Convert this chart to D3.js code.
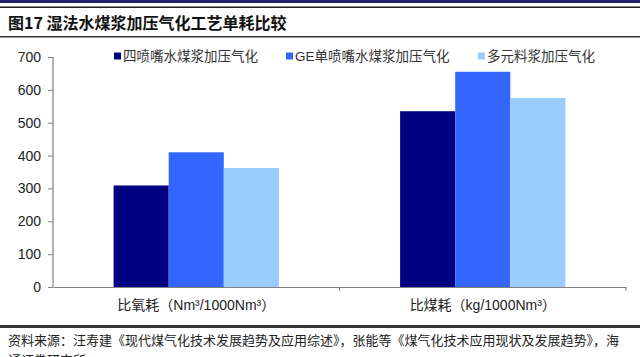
<!DOCTYPE html>
<html><head><meta charset="utf-8">
<script src="https://cdn.jsdelivr.net/npm/d3@7"></script>
<style>
html,body{margin:0;padding:0;background:#fff;overflow:hidden;}
svg{display:block;}
</style></head>
<body>
<script>
const title = "图17 湿法水煤浆加压气化工艺单耗比较";
const categories = ["比氧耗（Nm³/1000Nm³）", "比煤耗（kg/1000Nm³）"];
const seriesNames = ["四喷嘴水煤浆加压气化", "GE单喷嘴水煤浆加压气化", "多元料浆加压气化"];
const seriesFourNozzle = [309, 535];
const seriesGE = [410, 655];
const seriesMulti = [362, 575];
const yTicks = [0, 100, 200, 300, 400, 500, 600, 700];
const sourceLines = ["资料来源：汪寿建《现代煤气化技术发展趋势及应用综述》，张能等《煤气化技术应用现状及发展趋势》，海",
                     "通证券研究所"];
const colors = ["#000080", "#3366ff", "#99ccff"];

const seriesValues = [seriesFourNozzle, seriesGE, seriesMulti];
const W = 640, H = 357;
const svg = d3.select("body").append("svg").attr("width", W).attr("height", H);
const cjk = "'Noto Sans CJK SC','Noto Sans',sans-serif";
const latin = "'Liberation Sans',Arial,sans-serif";
const mixed = "'Liberation Sans','Noto Sans CJK SC',sans-serif";

// header rules
svg.append("rect").attr("x",0).attr("y",0).attr("width",W).attr("height",3).attr("fill","#22226e");
svg.append("rect").attr("x",0).attr("y",6.5).attr("width",W).attr("height",1.5).attr("fill","#222");
svg.append("text").attr("x",8).attr("y",29).attr("font-family",cjk).attr("font-weight","bold")
  .attr("font-size",16).attr("fill","#111").text(title);
svg.append("rect").attr("x",0).attr("y",36).attr("width",W).attr("height",1.5).attr("fill","#333");

// scales
const x0 = d3.scaleBand().domain(categories).range([53, 626]).padding(0);
const x1 = d3.scaleBand().domain(d3.range(seriesNames.length)).range([0, x0.bandwidth()])
  .paddingInner(0).paddingOuter(1.1);
const y = d3.scaleLinear().domain([0, 700]).range([287, 57]);

// bars
const groups = svg.append("g").selectAll("g").data(categories).join("g")
  .attr("transform", d => `translate(${x0(d)},0)`);
groups.selectAll("rect").data((d, ci) => seriesValues.map((s, si) => ({si, v: s[ci]})))
  .join("rect")
  .attr("x", d => x1(d.si)).attr("width", x1.bandwidth())
  .attr("y", d => y(d.v)).attr("height", d => y(0) - y(d.v))
  .attr("fill", d => colors[d.si]);

// y axis
const yAxis = svg.append("g").attr("transform","translate(53,0)")
  .call(d3.axisLeft(y).tickValues(yTicks).tickSize(5).tickPadding(7).tickFormat(d3.format("d")));
yAxis.select(".domain").attr("stroke","#808080").attr("stroke-width",1.2).attr("d","M0,57V287");
yAxis.selectAll(".tick line").attr("stroke","#808080");
yAxis.selectAll("text").attr("font-family",latin).attr("font-size",14).attr("fill","#222");

// x axis
const xAxis = svg.append("g").attr("transform","translate(0,287)")
  .call(d3.axisBottom(x0).tickSize(0).tickPadding(13));
xAxis.select(".domain").attr("stroke","#808080").attr("stroke-width",1.2);
xAxis.selectAll("text").attr("font-family",mixed).attr("font-size",14).attr("fill","#222");
const bounds = [x0.range()[0] + x0.bandwidth(), x0.range()[1]];
xAxis.selectAll("line.bound").data(bounds).join("line").attr("class","bound")
  .attr("x1", d => d).attr("x2", d => d).attr("y1", 0).attr("y2", 4)
  .attr("stroke","#808080");

// legend
const legendX = [114, 286, 478];
const lg = svg.append("g").selectAll("g").data(seriesNames).join("g")
  .attr("transform", (d, i) => `translate(${legendX[i]},56)`);
lg.append("rect").attr("x",0).attr("y",-3.5).attr("width",7).attr("height",7).attr("fill",(d,i)=>colors[i]);
lg.append("text").attr("x",9).attr("y",0).attr("dy","0.35em").attr("font-family",mixed)
  .attr("font-size",13.5).attr("fill","#333").text(d => d);

// footer
svg.append("rect").attr("x",0).attr("y",325).attr("width",W).attr("height",3).attr("fill","#333");
const src = svg.append("text").attr("x",8).attr("y",345).attr("font-family",cjk).attr("font-size",13)
  .attr("fill","#222");
src.selectAll("tspan").data(sourceLines).join("tspan")
  .attr("x", 8).attr("dy", (d, i) => i === 0 ? 0 : 20).text(d => d);
</script>
</body></html>
